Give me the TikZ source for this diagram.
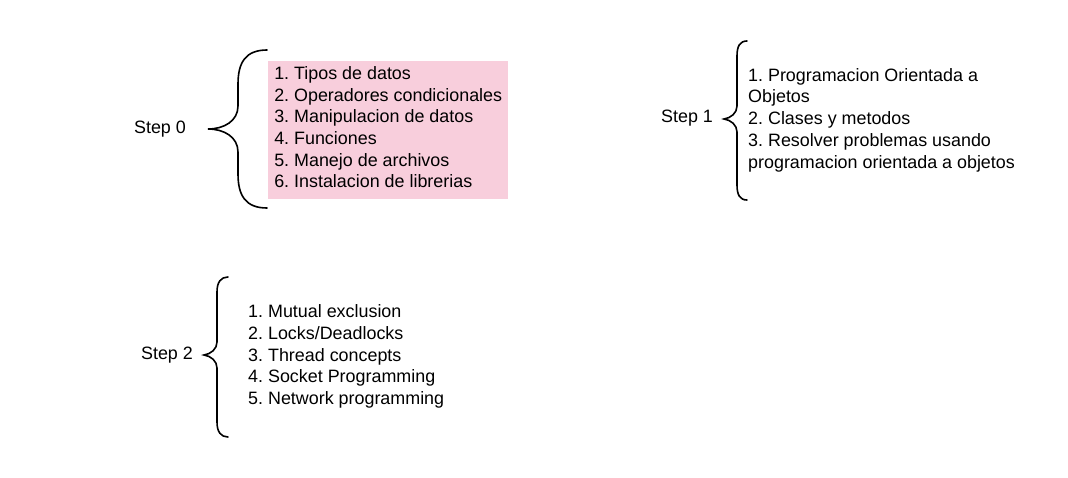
\documentclass[tikz,border=0pt]{standalone}
\usepackage{fontspec}
\setmainfont{Liberation Sans}
\frenchspacing
\usepackage{tikz}
\definecolor{pinkfill}{RGB}{248,206,220}
\tikzset{%
  steplabel/.style={%
    anchor=center,%
    inner sep=0pt},
  topics/.style={%
    align=left,%
    anchor=west,%
    inner xsep=5pt,%
    inner ysep=0pt},
  brace/.style={%
    draw=black,%
    line width=1.6pt,%
    line cap=round}
}
\begin{document}
\begin{tikzpicture}[x=1pt,y=-1pt,every
            node/.style={font=\fontsize{17.9}{21.7}\selectfont}]
            \useasboundingbox (0,0) rectangle (1068,477);
            % step 0
            \node [steplabel] (s0) at (160,129) {Step 0};
            \node [topics,fill=pinkfill,anchor=north west,
              minimum width=240pt,minimum height=138pt] (l0) at (268,61) {%
              1. Tipos de datos\\
              2. Operadores condicionales\\
              3. Manipulacion de datos\\
              4. Funciones\\
              5. Manejo de archivos\\
              6. Instalacion de librerias\rule[-6pt]{0pt}{0pt}};
            \draw [brace] (267,50) .. controls (246,50) and (238,62) .. (238,84)
              -- (238,106) .. controls (238,121) and (224,129) .. (208,129)
              .. controls (224,129) and (238,137) .. (238,152)
              -- (238,174) .. controls (238,196) and (246,208) .. (267,208);
            % step 1
            \node [steplabel] (s1) at (687,118) {Step 1};
            \node [topics] (l1) at (743,120) {%
              1. Programacion Orientada a\\
              Objetos\\
              2. Clases y metodos\\
              3. Resolver problemas usando\\
              programacion orientada a objetos};
            \draw [brace] (747,41) .. controls (740,41) and (737,46) .. (737,56)
              -- (737,106) .. controls (737,113) and (731,118) .. (724,119)
              .. controls (731,120) and (737,125) .. (737,132)
              -- (737,185) .. controls (737,195) and (740,200) .. (747,200);
            % step 2
            \node [steplabel] (s2) at (167,355) {Step 2};
            \node [topics] (l2) at (243,356.5) {%
              1. Mutual exclusion\\
              2. Locks/Deadlocks\\
              3. Thread concepts\\
              4. Socket Programming\\
              5. Network programming};
            \draw [brace] (228,277) .. controls (221,277) and (217,282) .. (217,292)
              -- (217,342) .. controls (217,349) and (211,354) .. (204,355)
              .. controls (211,356) and (217,361) .. (217,368)
              -- (217,422) .. controls (217,432) and (221,437) .. (228,437);
          \end{tikzpicture}
\end{document}
